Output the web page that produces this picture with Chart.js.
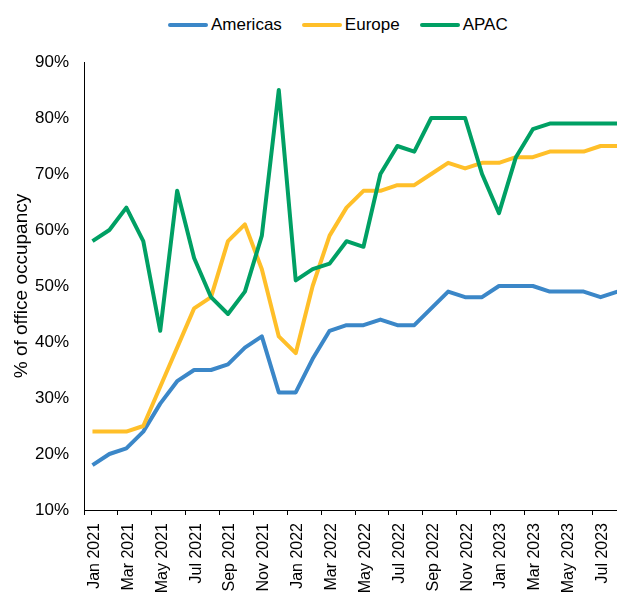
<!DOCTYPE html>
<html>
<head>
<meta charset="utf-8">
<script src="https://cdn.jsdelivr.net/npm/chart.js@4.4.1/dist/chart.umd.min.js"></script>
<style>
    html, body { margin: 0; padding: 0; overflow: hidden; background: #fff; }
    #wrap { position: relative; width: 617px; height: 593px; overflow: hidden; }
    #chart { position: absolute; left: 0; top: 0; }
    #legend {
        position: absolute; top: 15px; left: 168px;
        display: flex; align-items: center;
        font: 17px "Liberation Sans", Arial, sans-serif; line-height: 20px;
        color: #000; white-space: nowrap;
    }
    .item { display: flex; align-items: center; margin-right: 20px; }
    .swatch { width: 40px; height: 4px; border-radius: 2px; margin-right: 3px; }
</style>
</head>
<body>
<div id="wrap">
    <div id="legend"></div>
    <canvas id="chart" width="626" height="593"></canvas>
</div>
<script>
// Office occupancy by region, monthly Jan 2021 - Aug 2023 (values in %)
const months = [
    'Jan 2021', 'Feb 2021', 'Mar 2021', 'Apr 2021', 'May 2021', 'Jun 2021',
    'Jul 2021', 'Aug 2021', 'Sep 2021', 'Oct 2021', 'Nov 2021', 'Dec 2021',
    'Jan 2022', 'Feb 2022', 'Mar 2022', 'Apr 2022', 'May 2022', 'Jun 2022',
    'Jul 2022', 'Aug 2022', 'Sep 2022', 'Oct 2022', 'Nov 2022', 'Dec 2022',
    'Jan 2023', 'Feb 2023', 'Mar 2023', 'Apr 2023', 'May 2023', 'Jun 2023',
    'Jul 2023', 'Aug 2023'
];

const americas = [18, 20, 21, 24, 29, 33, 35, 35, 36, 39, 41, 31, 31, 37, 42, 43,
                  43, 44, 43, 43, 46, 49, 48, 48, 50, 50, 50, 49, 49, 49, 48, 49];
const europe   = [24, 24, 24, 25, 32, 39, 46, 48, 58, 61, 53, 41, 38, 50, 59, 64,
                  67, 67, 68, 68, 70, 72, 71, 72, 72, 73, 73, 74, 74, 74, 75, 75];
const apac     = [58, 60, 64, 58, 42, 67, 55, 48, 45, 49, 59, 85, 51, 53, 54, 58,
                  57, 70, 75, 74, 80, 80, 80, 70, 63, 73, 78, 79, 79, 79, 79, 79];

const seriesNames = ['Americas', 'Europe', 'APAC'];
const seriesColors = ['#3B87C8', '#FFBF29', '#00A064'];

const yMin = 10;
const yMax = 90;
const yStep = 10;

const FONT = "'Liberation Sans', Arial, sans-serif";

// Legend (HTML, positioned like the original)
const legendEl = document.getElementById('legend');
seriesNames.forEach((name, i) => {
    const item = document.createElement('div');
    item.className = 'item';
    const sw = document.createElement('span');
    sw.className = 'swatch';
    sw.style.background = seriesColors[i];
    const txt = document.createElement('span');
    txt.textContent = name;
    item.appendChild(sw);
    item.appendChild(txt);
    legendEl.appendChild(item);
});

const ctx = document.getElementById('chart').getContext('2d');

new Chart(ctx, {
    type: 'line',
    data: {
        labels: months,
        datasets: [americas, europe, apac].map((data, i) => ({
            label: seriesNames[i],
            data: data,
            borderColor: seriesColors[i],
            backgroundColor: seriesColors[i],
            borderWidth: 4,
            borderJoinStyle: 'round',
            pointRadius: 0,
            tension: 0,
            fill: false,
            order: 2 - i
        }))
    },
    options: {
        responsive: false,
        animation: false,
        layout: { padding: { top: 62, left: 0, right: 0, bottom: 0 } },
        plugins: {
            legend: { display: false },
            tooltip: { enabled: false }
        },
        scales: {
            x: {
                type: 'category',
                offset: true,
                grid: {
                    display: true,
                    offset: true,
                    drawOnChartArea: false,
                    drawTicks: true,
                    tickLength: 5,
                    tickColor: c => (c.index % 2 === 0 ? '#000' : 'rgba(0,0,0,0)')
                },
                border: { display: true, color: '#000', width: 1 },
                ticks: {
                    autoSkip: false,
                    minRotation: 90,
                    maxRotation: 90,
                    padding: 8,
                    labelOffset: 2,
                    color: '#000',
                    font: { family: FONT, size: 16 },
                    callback: function (value, index) {
                        return index % 2 === 0 ? this.getLabelForValue(value) : '';
                    }
                },
                afterFit: function (scale) {
                    scale.height = 83;
                    scale.paddingLeft = 0;
                    scale.paddingRight = 0;
                }
            },
            y: {
                min: yMin,
                max: yMax,
                grid: { display: false, drawTicks: false },
                border: { display: true, color: '#000', width: 1 },
                ticks: {
                    stepSize: yStep,
                    padding: 15,
                    color: '#000',
                    font: { family: FONT, size: 17 },
                    callback: value => value + '%'
                },
                title: {
                    display: true,
                    text: '% of office occupancy',
                    color: '#000',
                    font: { family: FONT, size: 19 },
                    padding: { top: 10, bottom: 0 }
                },
                afterFit: function (scale) {
                    scale.width = 84;
                    scale.paddingTop = 0;
                    scale.paddingBottom = 0;
                }
            }
        }
    }
});
</script>
</body>
</html>
